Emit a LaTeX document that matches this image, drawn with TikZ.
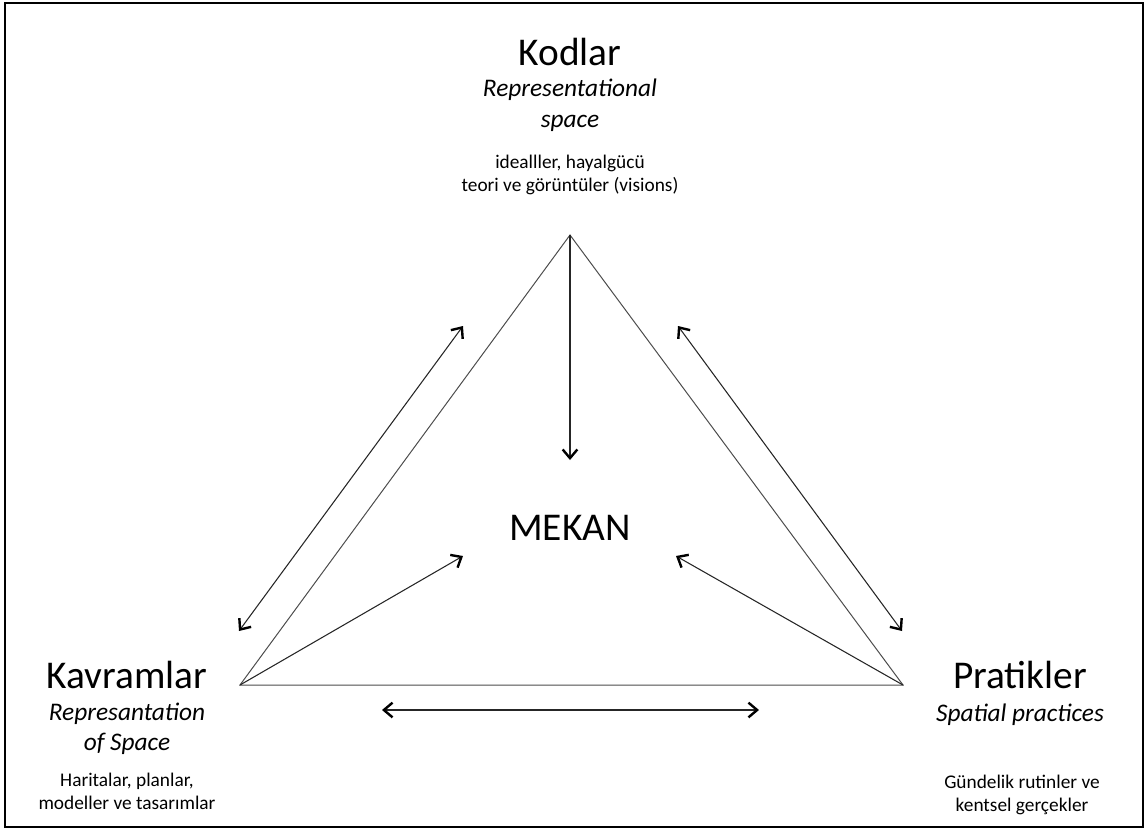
\documentclass[tikz,border=0pt]{standalone}
\usepackage{fontspec}
\setmainfont{Carlito}
\usetikzlibrary{arrows.meta}
\begin{document}
\begin{tikzpicture}[x=0.75pt,y=-0.75pt,
  >={Straight Barb[length=6.5pt,width=11pt,line width=1.8pt,color=black]},
  tri/.style={draw=black!70, line width=0.75pt},
  arr/.style={draw=black!85, line width=0.8pt, ->},
  darr/.style={draw=black!85, line width=0.8pt, <->},
  big/.style={font=\fontsize{29.5}{34}\selectfont, anchor=base, inner sep=0pt},
  sub/.style={font=\fontsize{19}{22}\selectfont\itshape, anchor=base, inner sep=0pt},
  small/.style={font=\fontsize{14.5}{17}\selectfont, anchor=base, inner sep=0pt}]
\useasboundingbox (0,0) rectangle (1147,829);
\draw[line width=1.1pt] (5,3) rectangle (1143,827);

% vertices
\coordinate (T) at (570,235);
\coordinate (L) at (240,685);
\coordinate (R) at (903,685);
% arrow ends
\coordinate (Mdown) at (570,460);
\coordinate (Ml) at (463,556);
\coordinate (Mr) at (676,556);
\coordinate (la) at (239,631);
\coordinate (lb) at (463,326);
\coordinate (ra) at (678,326);
\coordinate (rb) at (902,631);
\coordinate (ba) at (382,710);
\coordinate (bb) at (759,710);

\draw[tri] (T) -- (L) -- (R) -- cycle;
\draw[arr] (T) -- (Mdown);
\draw[arr] (L) -- (Ml);
\draw[arr] (R) -- (Mr);
\draw[darr] (la) -- (lb);
\draw[darr] (ra) -- (rb);
\draw[darr] (ba) -- (bb);

% texts
\node[big] (kodlar) at (570,65) {Kodlar};
\node[sub] (repsp1) at (570,96) {Representational};
\node[sub] (repsp2) at (570,127) {space};
\node[small] (kod1) at (570,168) {idealller, hayalgücü};
\node[small] (kod2) at (570,191) {teori ve görüntüler (visions)};

\node[big] (mekan) at (570,540) {MEKAN};

\node[big] (kav) at (127,688) {Kavramlar};
\node[sub] (kav1) at (127,720) {Represantation};
\node[sub] (kav2) at (127,750) {of Space};
\node[small] (kav3) at (127,786) {Haritalar, planlar,};
\node[small] (kav4) at (127,809) {modeller ve tasarımlar};

\node[big] (pra) at (1020,688) {Pratikler};
\node[sub] (pra1) at (1020,721) {Spatial practices};
\node[small] (pra3) at (1022,788) {Gündelik rutinler ve};
\node[small] (pra4) at (1022,811) {kentsel gerçekler};
\end{tikzpicture}
\end{document}
